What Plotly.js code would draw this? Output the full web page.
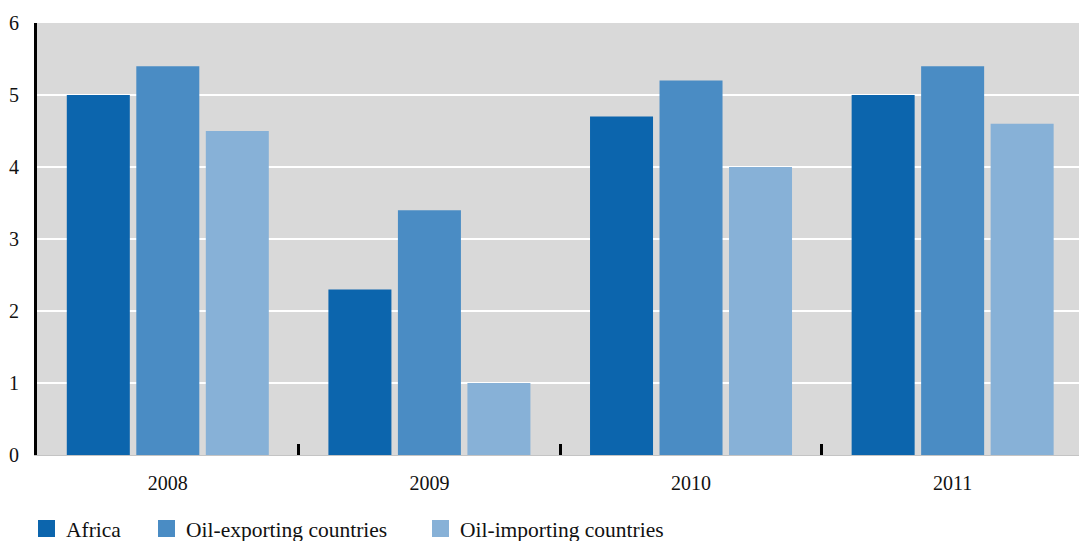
<!DOCTYPE html>
<html>
<head>
<meta charset="utf-8">
<script src="https://cdn.plot.ly/plotly-3.0.1.min.js"></script>
<style>html,body{margin:0;padding:0;background:#fff;}#chart{width:1079px;height:541px;}</style>
</head>
<body>
<div id="chart"></div>
<script>
const years = ["2008", "2009", "2010", "2011"];
const seriesNames = ["Africa", "Oil-exporting countries", "Oil-importing countries"];
const africa = [5.0, 2.3, 4.7, 5.0];
const oilExporting = [5.4, 3.4, 5.2, 5.4];
const oilImporting = [4.5, 1.0, 4.0, 4.6];
const colors = ["#0c65ad", "#4a8cc4", "#87b1d7"];

const values = [africa, oilExporting, oilImporting];
const traces = values.map((v, i) => ({
  type: "bar",
  name: seriesNames[i],
  x: years,
  y: v,
  marker: {color: colors[i], line: {width: 0}},
  hoverinfo: "none",
  showlegend: false
}));

const FAM = "Liberation Serif";
const font = {family: FAM, size: 20, color: "#111"};

// manual legend (paper coordinates)
const W = 1042, H = 432, L = 37, B = 455;
const px = x => (x - L) / W;
const py = y => (B - y) / H;
const legendX = [38, 158, 432];
const shapes = [], annotations = [];
seriesNames.forEach((n, i) => {
  shapes.push({type: "rect", xref: "paper", yref: "paper",
    x0: px(legendX[i]), x1: px(legendX[i] + 17), y0: py(537), y1: py(520),
    fillcolor: colors[i], line: {width: 0}});
  annotations.push({xref: "paper", yref: "paper", x: px(legendX[i] + 26), y: py(530),
    xanchor: "left", yanchor: "middle", text: n, showarrow: false,
    font: {family: FAM, size: 21.5, color: "#111"}});
});

const layout = {
  width: 1079, height: 541,
  margin: {l: 37, r: 0, t: 23, b: 86, pad: 0, autoexpand: false},
  paper_bgcolor: "#ffffff",
  plot_bgcolor: "#d9d9d9",
  barmode: "group",
  bargap: 0.203,
  bargroupgap: 0.0935,
  font: font,
  showlegend: false,
  shapes: shapes,
  annotations: annotations,
  xaxis: {
    type: "category",
    range: [-0.5, 3.483],
    showgrid: false,
    zeroline: false,
    showline: true, linecolor: "#c4c4c4", linewidth: 1,
    ticks: "inside", tickson: "boundaries", ticklen: 11, tickwidth: 3, tickcolor: "#000",
    tickfont: {family: FAM, size: 20, color: "#111"},
    ticklabelstandoff: 10
  },
  yaxis: {
    range: [0, 6],
    dtick: 1,
    showgrid: true, gridcolor: "#ffffff", gridwidth: 2.5,
    zeroline: false,
    showline: true, linecolor: "#000", linewidth: 3,
    ticks: "",
    tickfont: {family: FAM, size: 20, color: "#111"},
    ticklabelstandoff: 11
  }
};

Plotly.newPlot("chart", traces, layout, {displayModeBar: false, staticPlot: true});
</script>
</body>
</html>
